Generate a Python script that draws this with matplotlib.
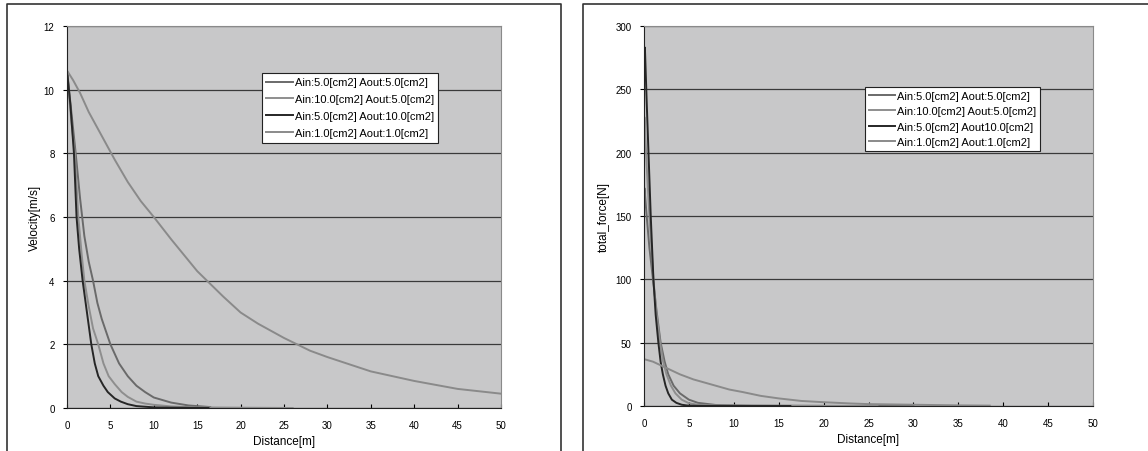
import matplotlib
matplotlib.use("Agg")
import matplotlib.pyplot as plt
from matplotlib.lines import Line2D

labels_v = ["Ain:5.0[cm2] Aout:5.0[cm2]", "Ain:10.0[cm2] Aout:5.0[cm2]",
            "Ain:5.0[cm2] Aout:10.0[cm2]", "Ain:1.0[cm2] Aout:1.0[cm2]"]
labels_f = ["Ain:5.0[cm2] Aout:5.0[cm2]", "Ain:10.0[cm2] Aout:5.0[cm2]",
            "Ain:5.0[cm2] Aout10.0[cm2]", "Ain:1.0[cm2] Aout:1.0[cm2]"]
colors = ["#6a6a6a", "#8e8e8e", "#262626", "#8a8a8a"]

# velocity curves
v1_x = [0, 0.5, 1, 1.5, 2, 2.5, 3, 3.5, 4, 5, 6, 7, 8, 9, 10, 12, 14, 16.5]
v1_y = [10.6, 9.3, 8.0, 6.6, 5.4, 4.6, 4.0, 3.3, 2.8, 2.0, 1.4, 1.0, 0.7, 0.5, 0.33, 0.17, 0.08, 0.03]
v2_x = [0, 0.5, 0.9, 1.3, 1.7, 2.0, 2.5, 3.0, 3.6, 4.2, 4.8, 5.5, 6.3, 7, 8, 9, 10, 12, 15, 20, 26]
v2_y = [10.6, 9.0, 8.0, 6.0, 4.8, 4.0, 3.2, 2.5, 2.0, 1.4, 1.0, 0.75, 0.5, 0.35, 0.2, 0.14, 0.1, 0.05, 0.02, 0.01, 0.0]
v3_x = [0, 0.4, 0.8, 1.1, 1.4, 1.8, 2.2, 2.5, 2.8, 3.2, 3.6, 4.2, 4.7, 5.5, 6.2, 7, 8, 10, 12, 16.3]
v3_y = [10.6, 9.5, 8.0, 6.0, 5.0, 4.0, 3.2, 2.6, 2.0, 1.4, 1.0, 0.7, 0.5, 0.3, 0.2, 0.12, 0.06, 0.02, 0.01, 0.0]
v4_x = [0, 0.7, 1.5, 2.5, 3.5, 4.5, 5.5, 7, 8.5, 10, 12, 15, 18, 20, 22, 25, 28, 30, 35, 40, 45, 50]
v4_y = [10.6, 10.3, 9.9, 9.3, 8.8, 8.3, 7.8, 7.1, 6.5, 6.0, 5.3, 4.3, 3.5, 3.0, 2.65, 2.2, 1.8, 1.6, 1.15, 0.85, 0.6, 0.45]

# force curves
f1_x = [0, 0.05, 0.3, 0.6, 1.0, 1.4, 1.85, 2.3, 2.7, 3.3, 4.0, 5.0, 6.0, 8.0, 12, 20, 30]
f1_y = [160, 172, 150, 125, 100, 75, 50, 35, 25, 16, 10, 5, 2.5, 0.8, 0.3, 0.1, 0.0]
f2_x = [0, 0.05, 0.3, 0.6, 1.05, 1.4, 1.8, 2.1, 2.5, 3.0, 3.5, 4.2, 5.0, 6.0, 8.0, 12, 20, 26]
f2_y = [210, 228, 190, 150, 100, 72, 50, 36, 25, 16, 10, 5, 2.2, 1.0, 0.4, 0.2, 0.1, 0.0]
f3_x = [0, 0.1, 0.3, 0.5, 0.75, 1.05, 1.3, 1.6, 1.85, 2.1, 2.4, 2.7, 3.1, 3.6, 4.2, 4.8, 6, 10, 16.3]
f3_y = [260, 283, 240, 200, 150, 100, 72, 50, 35, 25, 16, 10, 5, 2.5, 1.0, 0.4, 0.1, 0.0, 0.0]
f4_x = [0, 1, 2.5, 4, 5.5, 7.5, 9.5, 11, 13, 15, 17.5, 20, 23, 25, 30, 35, 38.5]
f4_y = [37, 35, 30, 25, 21, 17, 13, 11, 8, 6, 4, 3, 2, 1.5, 1.0, 0.5, 0.3]

fig = plt.figure(figsize=(11.48, 4.52), dpi=100)
plt.rcParams["font.family"] = ["Liberation Sans", "DejaVu Sans"]

W, H = 1148, 452


def box(x0, y0, x1, y1):
    return [x0 / W, 1 - y1 / H, (x1 - x0) / W, (y1 - y0) / H]


def style(ax, ymax, ystep):
    ax.set_facecolor("#c8c8c9")
    ax.set_xlim(0, 50)
    ax.set_ylim(0, ymax)
    ax.set_xticks(range(0, 51, 5))
    ax.set_yticks(range(0, ymax + 1, ystep))
    ax.grid(axis="y", color="#3a3a3a", lw=0.9)
    ax.set_axisbelow(True)
    ax.tick_params(axis="x", direction="in", length=3, labelsize=7, pad=9)
    ax.tick_params(axis="y", direction="out", length=3, labelsize=7, pad=6)
    for s in ["top", "right"]:
        ax.spines[s].set_color("#8a8a8a")
    for s in ["left", "bottom"]:
        ax.spines[s].set_color("#222222")
    ax.set_xlabel("Distance[m]", fontsize=8.5, labelpad=3)


ax1 = fig.add_axes(box(67, 27, 501, 409))
for xs, ys, c, lab in zip([v1_x, v2_x, v3_x, v4_x], [v1_y, v2_y, v3_y, v4_y], colors, labels_v):
    ax1.plot(xs, ys, color=c, lw=1.4, label=lab)
style(ax1, 12, 2)
ax1.set_ylabel("Velocity[m/s]", fontsize=8.5, labelpad=2)
lg = ax1.legend(loc="upper left", bbox_to_anchor=(0.449, 0.877), fontsize=8, frameon=True,
                fancybox=False, edgecolor="#222222", framealpha=1, handlelength=2.4,
                handletextpad=0.15, labelspacing=0.62, borderpad=0.4, borderaxespad=0)
lg.get_frame().set_linewidth(0.8)

ax2 = fig.add_axes(box(644, 27, 1093, 407))
for xs, ys, c, lab in zip([f1_x, f2_x, f3_x, f4_x], [f1_y, f2_y, f3_y, f4_y], colors, labels_f):
    ax2.plot(xs, ys, color=c, lw=1.4, label=lab)
style(ax2, 300, 50)
ax2.set_ylabel("total_force[N]", fontsize=8.5, labelpad=4)
lg = ax2.legend(loc="upper left", bbox_to_anchor=(0.492, 0.84), fontsize=8, frameon=True,
                fancybox=False, edgecolor="#222222", framealpha=1, handlelength=2.4,
                handletextpad=0.15, labelspacing=0.5, borderpad=0.35, borderaxespad=0)
lg.get_frame().set_linewidth(0.8)

# panel borders
def fline(xs, ys):
    fig.add_artist(Line2D([x / W for x in xs], [1 - y / H for y in ys],
                          color="#333333", lw=1.2, transform=fig.transFigure))


fline([7, 7, 561, 561], [460, 5, 5, 460])
fline([583, 583, 1150], [460, 5, 5])

fig.savefig("out.png", dpi=100)
